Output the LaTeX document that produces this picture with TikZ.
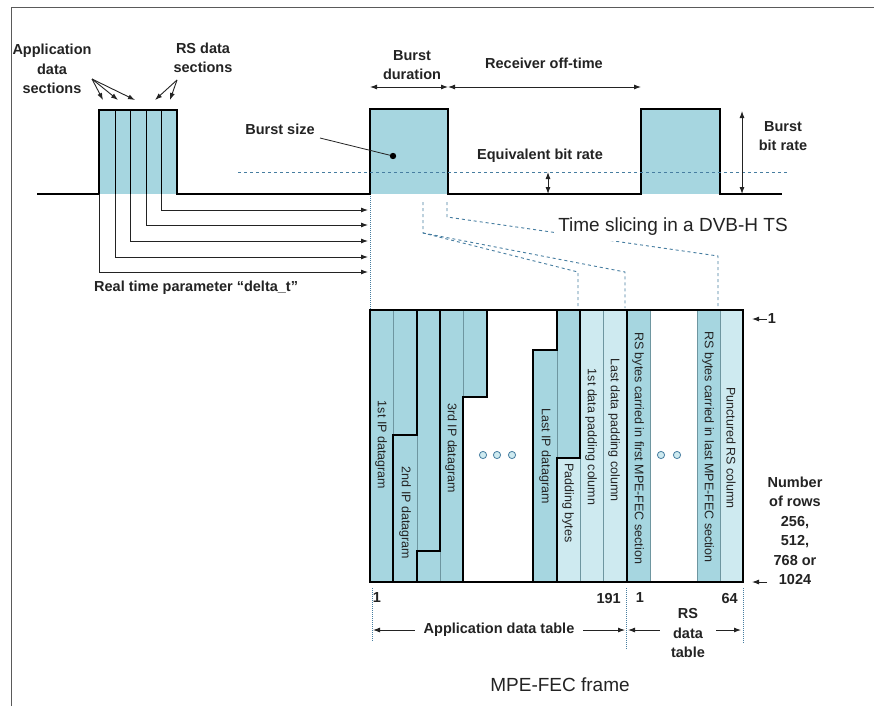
\documentclass[tikz,border=0pt]{standalone}
\usepackage{fontspec}
\setmainfont{Liberation Sans}
\usetikzlibrary{shapes,arrows,arrows.meta,positioning}

\definecolor{burstblue}{RGB}{166,214,224}
\definecolor{padblue}{RGB}{206,234,240}
\definecolor{gridline}{RGB}{110,150,160}
\definecolor{guideblue}{RGB}{70,125,160}
\definecolor{frameline}{RGB}{90,90,90}
\definecolor{inkgray}{RGB}{35,35,35}

\begin{document}
\begin{tikzpicture}[
    x=1pt, y=-1pt,
    every node/.style={text=inkgray, inner sep=1pt, align=center, font=\fontsize{14.5}{19.5}\selectfont\bfseries},
    title/.style={font=\fontsize{19}{22}\selectfont},
    collabel/.style={rotate=-90, font=\fontsize{12.5}{14}\selectfont},
    arrow/.style={-{Latex[length=7pt,width=5pt]}, line width=0.9pt, inkgray},
    dimarrow/.style={{Latex[length=7pt,width=5pt]}-{Latex[length=7pt,width=5pt]}, line width=0.9pt, inkgray},
    thinline/.style={gridline, line width=0.6pt},
    thickline/.style={black, line width=1.7pt},
    guide/.style={guideblue, dashed, line width=0.9pt},
    dotguide/.style={guideblue, densely dotted, line width=1pt},
    ring/.style={guideblue, fill=padblue, line width=0.8pt}
]
\useasboundingbox (0,0) rectangle (874,706);
\fill[white] (0,0) rectangle (874,706);
\draw[frameline, line width=1pt] (11,706) -- (11,8) -- (874,8);

% time slicing: bursts on the transport stream
\fill[burstblue] (99,110) rectangle (177,194);
\fill[burstblue] (370,109) rectangle (448,194);
\fill[burstblue] (641,109) rectangle (720,194);
\foreach \x in {115,130,146,161}
    \draw[line width=0.8pt] (\x,110) -- (\x,194);
\draw[thickline] (37,194) -- (99,194) -- (99,110) -- (177,110) -- (177,194)
    -- (370,194) -- (370,109) -- (448,109) -- (448,194)
    -- (641,194) -- (641,109) -- (720,109) -- (720,194) -- (782,194);

\coordinate (b2l) at (370,87);
\coordinate (b2r) at (448,87);
\coordinate (b3l) at (641,87);

\node (appsec) at (52,69) {Application\\data\\sections};
\node (rssec) at (203,58) {RS data\\sections};
\coordinate (appsrc) at (92,79);
\coordinate (rssrc) at (177,80);
\foreach \x in {103,118,135}
    \draw[arrow] (appsrc) -- (\x,100);
\foreach \x in {155,170}
    \draw[arrow] (rssrc) -- (\x,100);

% delta_t
\foreach \x/\y in {99/272,115/257,130/241,146/225,161/210}
    \draw[arrow] (\x,194) -- (\x,\y) -- (368,\y);
\node (delta) [anchor=west] at (93,288) {Real time parameter “delta\_t”};

\node (bdur) at (412,65) {Burst\\duration};
\node (roff) at (544,63) {Receiver off-time};
\draw[dimarrow] (b2l) -- (b2r);
\draw[dimarrow] (b2r) -- (b3l);

\node (bsize) at (280,129) {Burst size};
\coordinate (bsdot) at (393,156);
\draw[line width=0.8pt, inkgray] (320,138) -- (bsdot);
\fill[black] (bsdot) circle (3.2);

\draw[guide] (238,172) -- (788,172);
\node (eqrate) at (540,156) {Equivalent bit rate};
\draw[dimarrow] (548,172) -- (548,194);

\node (brate) at (783,136) {Burst\\bit rate};
\draw[dimarrow] (742,111) -- (742,194);

% mapping of the burst onto the frame
\draw[dotguide] (370,196) -- (370,310);
\draw[guide] (423,202) -- (423,233) -- (578,272) -- (578,308);
\draw[guide] (423,233) -- (625,272) -- (625,308);
\draw[guide] (447,202) -- (447,217) -- (718,256) -- (718,308);
\node (tslice) [title, fill=white, inner xsep=4pt, inner ysep=5pt] at (673,227) {Time slicing in a DVB-H TS};

% MPE-FEC frame
\fill[burstblue] (370,310) rectangle (463,582);
\fill[burstblue] (463,310) rectangle (487,397);
\fill[burstblue] (533,350) rectangle (557,582);
\fill[burstblue] (557,310) rectangle (580,458);
\fill[padblue] (557,458) rectangle (580,582);
\fill[padblue] (580,310) rectangle (627,582);
\fill[burstblue] (627,310) rectangle (650,582);
\fill[burstblue] (697,310) rectangle (720,582);
\fill[padblue] (720,310) rectangle (743,582);

\draw[thinline] (393,310) -- (393,435);
\draw[thinline] (417,435) -- (417,551);
\draw[thinline] (440,551) -- (440,582);
\draw[thinline] (463,310) -- (463,397);
\draw[thinline] (557,350) -- (557,458);
\draw[thinline] (580,458) -- (580,582);
\foreach \x in {603,650,697,720}
    \draw[thinline] (\x,310) -- (\x,582);

\draw[thickline] (393,582) -- (393,435) -- (417,435) -- (417,310);
\draw[thickline] (417,582) -- (417,551) -- (440,551) -- (440,310);
\draw[thickline] (463,582) -- (463,397) -- (487,397) -- (487,310);
\draw[thickline] (533,582) -- (533,350) -- (557,350) -- (557,310);
\draw[thickline] (557,582) -- (557,458) -- (580,458) -- (580,310);
\draw[thickline] (627,310) -- (627,582);
\draw[thickline] (370,310) rectangle (743,582);

\node[collabel] (ip1) at (381,445) {1st IP datagram};
\node[collabel] (ip2) at (405,513) {2nd IP datagram};
\node[collabel] (ip3) at (451,448) {3rd IP datagram};
\node[collabel] (iplast) at (545,456) {Last IP datagram};
\node[collabel] (padb) at (568,503) {Padding bytes};
\node[collabel] (pad1) at (591,437) {1st data padding column};
\node[collabel] (padn) at (614,430) {Last data padding column};
\node[collabel] (rs1) at (638,448) {RS bytes carried in first MPE-FEC section};
\node[collabel] (rsn) at (708,447) {RS bytes carried in last MPE-FEC section};
\node[collabel] (punct) at (731,448) {Punctured RS column};

\foreach \x in {483,497,512}
    \draw[ring] (\x,455) circle (3.6);
\foreach \x in {661,677}
    \draw[ring] (\x,455) circle (3.6);

% rows
\node (row1) at (772,319) {1};
\draw[arrow] (row1.west) -- (752,319);
\node (rows) at (795,531) {Number\\of rows\\256,\\512,\\768 or\\1024};
\draw[arrow] (767,582) -- (752,582);

% columns
\node (c1) at (377,598) {1};
\node (c191) [anchor=east] at (622,598) {191};
\node (r1) at (640,598) {1};
\node (r64) [anchor=east] at (739,598) {64};
\draw[dotguide] (372,588) -- (372,642);
\draw[dotguide] (626,588) -- (626,650);
\draw[dotguide] (743,588) -- (743,643);

\coordinate (adl) at (373,630);
\coordinate (adr) at (625,630);
\coordinate (rsl) at (628,630);
\coordinate (rsr) at (741,630);
\draw[dimarrow] (adl) -- node[fill=white, inner xsep=9pt] (adt) {Application data table} (adr);
\draw[dimarrow] (rsl) -- (rsr);
\node (rsdt) [fill=white, inner xsep=11pt] at (688,633) {RS\\data\\table};

\node (mpe) [title] at (560,685) {MPE-FEC frame};
\end{tikzpicture}
\end{document}
